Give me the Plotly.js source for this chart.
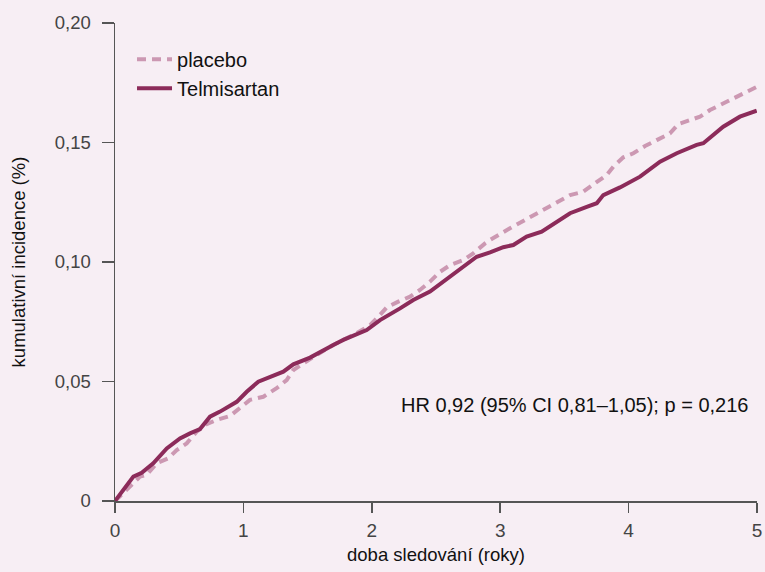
<!DOCTYPE html>
<html>
<head>
<meta charset="utf-8">
<script src="https://cdn.plot.ly/plotly-3.0.1.min.js"></script>
<style>html,body{margin:0;padding:0;background:#f7eef4;}</style>
</head>
<body>
<div id="chart" style="width:765px;height:572px;"></div>
<script>
const telmiX = [0, 0.143, 0.208, 0.298, 0.403, 0.506, 0.584, 0.662, 0.740, 0.818, 0.948, 1.026, 1.116, 1.207, 1.311, 1.389, 1.519, 1.700, 1.778, 1.960, 2.064, 2.220, 2.323, 2.453, 2.557, 2.687, 2.817, 2.921, 3.024, 3.102, 3.206, 3.323, 3.440, 3.544, 3.674, 3.752, 3.803, 3.933, 4.089, 4.245, 4.375, 4.530, 4.582, 4.686, 4.737, 4.867, 4.998];
const telmiY = [0, 0.0102, 0.0118, 0.0158, 0.0220, 0.0262, 0.0283, 0.0301, 0.0353, 0.0374, 0.0415, 0.0457, 0.0499, 0.0520, 0.0541, 0.0572, 0.0600, 0.0653, 0.0674, 0.0715, 0.0757, 0.0806, 0.0841, 0.0876, 0.0918, 0.0974, 0.1022, 0.1040, 0.1062, 0.1071, 0.1106, 0.1127, 0.1169, 0.1204, 0.1231, 0.1246, 0.1280, 0.1312, 0.1357, 0.1420, 0.1455, 0.1490, 0.1497, 0.1545, 0.1566, 0.1608, 0.1633];
const placeboX = [0, 0.117, 0.195, 0.247, 0.325, 0.415, 0.481, 0.558, 0.636, 0.714, 0.792, 0.896, 0.973, 1.051, 1.155, 1.259, 1.337, 1.389, 1.519, 1.700, 1.882, 1.986, 2.051, 2.116, 2.206, 2.298, 2.375, 2.453, 2.531, 2.609, 2.713, 2.790, 2.882, 2.921, 3.076, 3.219, 3.375, 3.544, 3.647, 3.752, 3.829, 3.881, 3.959, 4.037, 4.128, 4.219, 4.322, 4.387, 4.478, 4.556, 4.634, 4.737, 4.867, 4.998];
const placeboY = [0, 0.0060, 0.0102, 0.0109, 0.0158, 0.0179, 0.0213, 0.0241, 0.0290, 0.0322, 0.0339, 0.0356, 0.0388, 0.0423, 0.0436, 0.0472, 0.0506, 0.0548, 0.0594, 0.0653, 0.0702, 0.0736, 0.0771, 0.0810, 0.0834, 0.0855, 0.0883, 0.0918, 0.0959, 0.0987, 0.1008, 0.1036, 0.1078, 0.1092, 0.1141, 0.1183, 0.1231, 0.1280, 0.1294, 0.1332, 0.1364, 0.1399, 0.1438, 0.1455, 0.1485, 0.1510, 0.1538, 0.1577, 0.1594, 0.1608, 0.1636, 0.1664, 0.1699, 0.1733];
const seriesNames = ["placebo", "Telmisartan"];
const xTickVals = [0, 1, 2, 3, 4, 5];
const xTickText = ["0", "1", "2", "3", "4", "5"];
const yTickVals = [0, 0.05, 0.10, 0.15, 0.20];
const yTickText = ["0", "0,05", "0,10", "0,15", "0,20"];
const annotationText = "HR 0,92 (95% CI 0,81–1,05); p = 0,216";

const FONT = "Liberation Sans, Arial, sans-serif";
const traces = [
  {x: placeboX, y: placeboY, name: seriesNames[0], type: "scatter", mode: "lines",
   line: {color: "#cc98b2", width: 4, dash: "9px,6px"}},
  {x: telmiX, y: telmiY, name: seriesNames[1], type: "scatter", mode: "lines",
   line: {color: "#8c2b5a", width: 4}}
];
const layout = {
  width: 765, height: 572,
  paper_bgcolor: "#f7eef4", plot_bgcolor: "#f7eef4",
  margin: {l: 115, r: 8, t: 23, b: 71},
  font: {family: FONT, color: "#222", size: 16},
  showlegend: true,
  legend: {x: 0.0265, y: 0.965, xanchor: "left", yanchor: "top", bgcolor: "rgba(0,0,0,0)",
           font: {size: 20, color: "#111"}, tracegroupgap: 0, itemwidth: 35},
  xaxis: {range: [0, 5], tickvals: xTickVals, ticktext: xTickText, showgrid: false, zeroline: false,
          showline: true, linecolor: "#555", linewidth: 1.5, ticks: "outside", ticklen: 10, tickcolor: "#555",
          tickwidth: 1.5, tickfont: {size: 19, color: "#444"}, ticklabelstandoff: 2,
          title: {text: "doba sledování (roky)", font: {size: 18.5, color: "#111"}, standoff: 8}},
  yaxis: {range: [0, 0.2], tickvals: yTickVals, ticktext: yTickText, showgrid: false, zeroline: false,
          showline: true, linecolor: "#555", linewidth: 1.5, ticks: "outside", ticklen: 12, tickcolor: "#555",
          tickwidth: 1.5, tickfont: {size: 18.5, color: "#444"}, ticklabelstandoff: 7,
          title: {text: "kumulativní incidence (%)", font: {size: 18.5, color: "#111"}, standoff: 24}},
  annotations: [{x: 4.945, y: 0.0402, xref: "x", yref: "y", text: annotationText, showarrow: false,
                 xanchor: "right", yanchor: "middle", font: {size: 20, color: "#111"}}]
};
Plotly.newPlot("chart", traces, layout, {displayModeBar: false, staticPlot: true});
</script>
</body>
</html>
